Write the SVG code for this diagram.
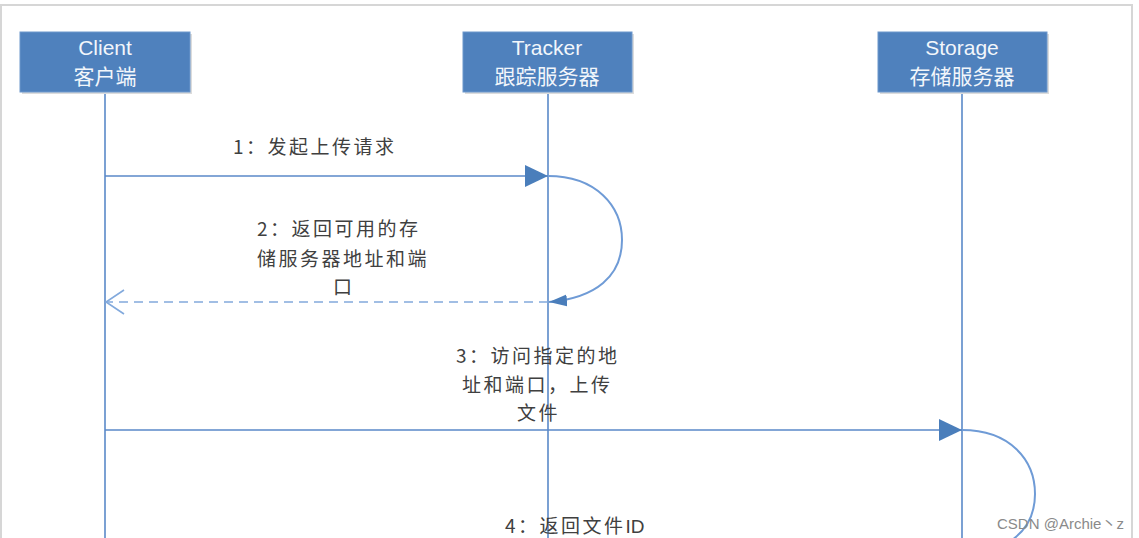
<svg xmlns="http://www.w3.org/2000/svg" width="1139" height="538" viewBox="0 0 1139 538">
<style>
.box{fill:#4f81bd;stroke:#6d97cc;stroke-width:1}
.shadow{fill:#dcdcdc}
.hd{font-family:"Liberation Sans","Noto Sans CJK SC",sans-serif;font-size:21px;fill:#f2f6fb;text-anchor:middle}
.life{stroke:#5a89c8;stroke-width:1.6;fill:none}
.msg{stroke:#5a89c8;stroke-width:1.6;fill:none}
.dash{stroke:#82a9dc;stroke-width:1.6;fill:none;stroke-dasharray:9 6}
.arc{stroke:#6f9bd6;stroke-width:2;fill:none}
.lbl{font-family:"Noto Sans CJK SC","Liberation Sans",sans-serif;font-size:19px;fill:#404040;letter-spacing:2.5px}
.lat{font-family:"Liberation Sans",sans-serif;letter-spacing:0}
.wm{font-family:"Liberation Sans","Noto Sans CJK SC",sans-serif;font-size:15px;fill:#8a8a8a}
</style>
<defs>
<marker id="tri" markerUnits="userSpaceOnUse" markerWidth="24" markerHeight="24" refX="23" refY="11" orient="auto">
<path d="M0,0 L23,11 L0,22 Z" fill="#4a7ebb"/>
</marker>
<marker id="tri-s" markerUnits="userSpaceOnUse" markerWidth="20" markerHeight="14" refX="18" refY="6" orient="auto">
<path d="M0,0 L18,6 L0,12 Z" fill="#4a7ebb"/>
</marker>
<marker id="open" markerUnits="userSpaceOnUse" markerWidth="22" markerHeight="30" refX="19" refY="13" orient="auto">
<path d="M1,1 L19,13 L1,25" fill="none" stroke="#82a9dc" stroke-width="1.6"/>
</marker>
</defs>
<rect x="0" y="0" width="1139" height="538" fill="#ffffff"/>
<path d="M1,545 L1,5 L1132,5 L1132,545" fill="none" stroke="#d6d6d6" stroke-width="2"/>

<g id="lifelines">
<line class="life" x1="105" y1="92" x2="105" y2="538"/>
<line class="life" x1="548" y1="92" x2="548" y2="538"/>
<line class="life" x1="962" y1="92" x2="962" y2="538"/>
</g>

<g id="client">
<rect class="shadow" x="22" y="34" width="170" height="60"/>
<rect class="box" x="20" y="32" width="170" height="60"/>
<text class="hd" x="105" y="55">Client</text>
<text class="hd" x="105" y="84">客户端</text>
</g>
<g id="tracker">
<rect class="shadow" x="465" y="34" width="169" height="60"/>
<rect class="box" x="463" y="32" width="169" height="60"/>
<text class="hd" x="547" y="55">Tracker</text>
<text class="hd" x="547" y="84">跟踪服务器</text>
</g>
<g id="storage">
<rect class="shadow" x="880" y="34" width="169" height="60"/>
<rect class="box" x="878" y="32" width="169" height="60"/>
<text class="hd" x="962" y="55">Storage</text>
<text class="hd" x="962" y="84">存储服务器</text>
</g>

<g id="connectors">
<line class="msg" x1="105" y1="176" x2="548" y2="176" marker-end="url(#tri)"/>
<path class="arc" d="M548,176 C596,176 622,206 622,240 C622,276 596,298 549,302" marker-end="url(#tri-s)"/>
<line class="dash" x1="548" y1="302" x2="106" y2="302" marker-end="url(#open)"/>
<line class="msg" x1="105" y1="430" x2="962" y2="430" marker-end="url(#tri)"/>
<path class="arc" d="M962,430 C1010,430 1035,460 1035,494 C1035,515 1026,530 1012,540"/>
</g>

<g id="labels">
<text class="lbl" x="233" y="154">1：发起上传请求</text>
<text class="lbl" x="257" y="236">2：返回可用的存</text>
<text class="lbl" x="257" y="266">储服务器地址和端</text>
<text class="lbl" x="333" y="294">口</text>
<text class="lbl" x="456" y="363">3：访问指定的地</text>
<text class="lbl" x="462" y="392">址和端口，上传</text>
<text class="lbl" x="517" y="420">文件</text>
<text class="lbl" x="505" y="533">4：返回文件<tspan class="lat">ID</tspan></text>
</g>
<text class="wm" x="997" y="529">CSDN @Archie丶z</text>
</svg>
